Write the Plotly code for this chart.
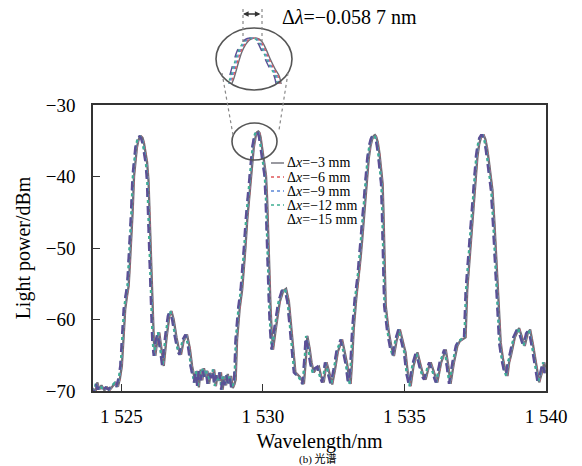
import plotly.graph_objects as go

# Transmission spectrum of the grating array (shared trace shape)
wavelength = [
    1524.00, 1524.08, 1524.15, 1524.22, 1524.30, 1524.40, 1524.50, 1524.60, 1524.70, 1524.80,
    1524.88, 1524.95, 1525.02, 1525.08, 1525.14, 1525.20, 1525.26, 1525.30, 1525.34, 1525.40,
    1525.45, 1525.50, 1525.55, 1525.60, 1525.65, 1525.70, 1525.75, 1525.80, 1525.86, 1525.91,
    1525.96, 1526.00, 1526.03, 1526.06, 1526.09, 1526.11, 1526.15, 1526.20, 1526.27, 1526.34,
    1526.42, 1526.50, 1526.60, 1526.70, 1526.77, 1526.85, 1526.95, 1527.05, 1527.11, 1527.20,
    1527.32, 1527.42, 1527.50, 1527.56, 1527.62, 1527.68, 1527.74, 1527.80, 1527.86, 1527.92,
    1527.98, 1528.04, 1528.10, 1528.16, 1528.22, 1528.28, 1528.34, 1528.40, 1528.46, 1528.52,
    1528.58, 1528.64, 1528.70, 1528.76, 1528.82, 1528.88, 1528.94, 1529.00, 1529.04, 1529.09,
    1529.18, 1529.27, 1529.33, 1529.38, 1529.45, 1529.52, 1529.59, 1529.64, 1529.68, 1529.72,
    1529.76, 1529.80, 1529.84, 1529.88, 1529.92, 1529.96, 1530.01, 1530.06, 1530.11, 1530.15,
    1530.18, 1530.21, 1530.24, 1530.27, 1530.31, 1530.36, 1530.45, 1530.60, 1530.72, 1530.82,
    1530.92, 1531.00, 1531.08, 1531.15, 1531.30, 1531.45, 1531.52, 1531.57, 1531.65, 1531.72,
    1531.80, 1531.90, 1531.98, 1532.06, 1532.15, 1532.25, 1532.35, 1532.45, 1532.55, 1532.65,
    1532.80, 1532.90, 1532.98, 1533.05, 1533.10, 1533.15, 1533.21, 1533.30, 1533.39, 1533.45,
    1533.51, 1533.58, 1533.64, 1533.68, 1533.74, 1533.80, 1533.86, 1533.92, 1533.96, 1534.00,
    1534.06, 1534.12, 1534.18, 1534.23, 1534.26, 1534.28, 1534.31, 1534.34, 1534.45, 1534.55,
    1534.63, 1534.72, 1534.84, 1534.95, 1535.04, 1535.12, 1535.22, 1535.32, 1535.46, 1535.58,
    1535.68, 1535.75, 1535.85, 1535.93, 1536.05, 1536.16, 1536.30, 1536.46, 1536.55, 1536.63,
    1536.75, 1536.87, 1536.96, 1537.05, 1537.16, 1537.22, 1537.30, 1537.40, 1537.46, 1537.52,
    1537.58, 1537.64, 1537.70, 1537.76, 1537.80, 1537.86, 1537.92, 1537.98, 1538.04, 1538.11,
    1538.18, 1538.24, 1538.29, 1538.35, 1538.40, 1538.48, 1538.56, 1538.64, 1538.70, 1538.76,
    1538.90, 1539.05, 1539.15, 1539.25, 1539.35, 1539.44, 1539.54, 1539.64, 1539.70, 1539.76,
    1539.85, 1539.94, 1540.00,
]
power = [
    -69.6, -70.3, -68.8, -69.8, -69.2, -69.9, -69.5, -69.8, -69.3, -68.9,
    -69.4, -68.3, -66.5, -62.0, -58.5, -56.8, -55.3, -52.5, -50.0, -45.0,
    -40.0, -37.8, -36.0, -35.0, -34.5, -34.4, -34.6, -35.3, -36.8, -38.0,
    -40.5, -44.0, -48.8, -52.5, -56.0, -60.4, -63.0, -65.1, -63.0, -61.8,
    -64.0, -66.5, -62.5, -59.5, -58.8, -60.0, -62.5, -64.5, -64.9, -63.0,
    -62.1, -64.0, -66.5, -67.9, -68.8, -67.2, -69.5, -67.0, -68.5, -66.8,
    -68.0, -67.2, -69.0, -67.5, -68.2, -67.0, -69.3, -67.8, -68.6, -67.4,
    -69.8, -68.0, -69.2, -67.6, -68.9, -67.9, -69.6, -69.0, -68.4, -62.8,
    -58.5, -55.8, -53.0, -50.2, -46.0, -42.5, -40.0, -37.6, -35.9, -34.8,
    -34.1, -33.8, -33.7, -33.9, -34.5, -35.6, -37.2, -38.6, -39.8, -43.0,
    -47.5, -52.0, -56.0, -58.1, -61.5, -64.2, -61.5, -57.5, -56.0, -55.7,
    -57.5, -61.0, -65.0, -67.4, -68.0, -69.0, -65.5, -62.3, -64.0, -66.0,
    -67.4, -66.8, -66.6, -68.0, -68.8, -66.0, -67.5, -69.1, -67.0, -64.5,
    -62.8, -64.5, -66.3, -68.5, -69.0, -66.0, -61.3, -57.0, -54.2, -51.5,
    -48.8, -45.0, -42.0, -40.0, -37.5, -35.8, -34.8, -34.3, -34.2, -34.4,
    -35.2, -36.8, -38.8, -41.0, -45.0, -48.8, -54.0, -58.1, -61.8, -64.0,
    -65.1, -63.0, -61.4, -63.0, -64.6, -67.5, -69.3, -66.5, -64.6, -66.5,
    -68.0, -68.4, -66.8, -66.0, -67.5, -68.8, -66.0, -64.2, -66.5, -69.0,
    -66.0, -63.7, -63.0, -62.8, -62.5, -55.8, -51.5, -46.5, -43.0, -40.0,
    -37.2, -35.5, -34.6, -34.2, -34.2, -34.8, -36.0, -37.8, -39.8, -41.9,
    -46.5, -51.5, -55.8, -60.0, -63.2, -65.5, -67.0, -67.9, -66.0, -65.1,
    -62.5, -61.2, -62.5, -63.7, -62.0, -61.4, -63.5, -66.0, -67.8, -68.8,
    -67.5, -66.0, -67.5,
]

# Fibre displacement per measurement and the measured Bragg shift relative to -3 mm
series_labels = ["Δ<i>x</i>=−3 mm", "Δ<i>x</i>=−6 mm", "Δ<i>x</i>=−9 mm",
                 "Δ<i>x</i>=−12 mm", "Δ<i>x</i>=−15 mm"]
series_shift_nm = [0.0, -0.0147, -0.0293, -0.0440, -0.0587]
series_colors = ["#6e6e78", "#e0575a", "#5b86d6", "#3fae92", "#5c4f96"]
series_dash = ["solid", "dot", "dot", "dot", "dash"]

x_ticks = [1525, 1530, 1535, 1540]
x_tick_text = ["1 525", "1 530", "1 535", "1 540"]
y_ticks = [-30, -40, -50, -60, -70]
y_tick_text = ["−30", "−40", "−50", "−60", "−70"]

W, H = 582, 466
ML, MR, MT, MB = 93, 36, 10, 75
PW, PH = W - ML - MR, H - MT - MB


def px(x):
    return (x - ML) / PW


def py(y):
    return (H - MB - y) / PH


FONT = "Liberation Serif, Times New Roman, serif"

fig = go.Figure()

for lab, sh, col, dash in zip(series_labels, series_shift_nm, series_colors, series_dash):
    xs = [w + sh for w in wavelength]
    fig.add_trace(go.Scatter(x=xs, y=power, mode="lines", name=lab, showlegend=False,
                             line=dict(color=col, width=2.3, dash=dash),
                             xaxis="x", yaxis="y"))
    # magnified top of the 1 530 nm peak
    fig.add_trace(go.Scatter(x=xs, y=power, mode="lines", showlegend=False,
                             line=dict(color=col, width=1.4, dash=dash, shape="spline"),
                             xaxis="x2", yaxis="y2"))

main_top = py(105)
fig.update_layout(
    width=W, height=H,
    margin=dict(l=ML, r=MR, t=MT, b=MB, autoexpand=False),
    paper_bgcolor="white", plot_bgcolor="white",
    font=dict(family=FONT, color="black", size=19),
    xaxis=dict(range=[1524, 1540], tickvals=x_ticks, ticktext=x_tick_text,
               ticks="inside", ticklen=7, tickwidth=1.3, tickcolor="#333",
               showline=True, linecolor="#333", linewidth=1.6, mirror=True,
               showgrid=False, zeroline=False, ticklabelstandoff=7, automargin=False,
               title=dict(text="Wavelength/nm", font=dict(size=20), standoff=8),
               domain=[0, 1], anchor="y"),
    yaxis=dict(range=[-70, -30], tickvals=y_ticks, ticktext=y_tick_text,
               ticks="inside", ticklen=7, tickwidth=1.3, tickcolor="#333",
               showline=True, linecolor="#333", linewidth=1.6, mirror=True,
               showgrid=False, zeroline=False, ticklabelstandoff=12, automargin=False,
               title=dict(text="Light power/dBm", font=dict(size=20), standoff=10),
               domain=[0, main_top], anchor="x"),
    xaxis2=dict(range=[1529.52, 1530.14], domain=[px(228), px(282)], anchor="y2",
                visible=False, fixedrange=True, automargin=False),
    yaxis2=dict(range=[-41.0, -33.4], domain=[py(84), py(36)], anchor="x2",
                visible=False, fixedrange=True, automargin=False),
)

ring = dict(color="#555", width=1.6)
guide = dict(color="#888", width=1.2, dash="dot")
shapes = [
    # magnifier ring and the marked peak
    dict(type="circle", xref="paper", yref="paper", x0=px(216), x1=px(292),
         y0=py(90), y1=py(28), line=ring),
    dict(type="circle", xref="paper", yref="paper", x0=px(232), x1=px(277),
         y0=py(160), y1=py(123), line=ring),
    dict(type="line", xref="paper", yref="paper", x0=px(222), y0=py(73),
         x1=px(233), y1=py(135), line=guide),
    dict(type="line", xref="paper", yref="paper", x0=px(288), y0=py(73),
         x1=px(279), y1=py(130), line=guide),
    dict(type="line", xref="paper", yref="paper", x0=px(243), y0=py(9),
         x1=px(243), y1=py(42), line=guide),
    dict(type="line", xref="paper", yref="paper", x0=px(262), y0=py(9),
         x1=px(262), y1=py(42), line=guide),
]

# legend entries
legend_rows = [163, 177, 191, 205, 219]
annotations = []
for i, lab in enumerate(series_labels):
    yrow = legend_rows[i]
    if i < 4:
        shapes.append(dict(type="line", xref="paper", yref="paper",
                           x0=px(271), x1=px(284), y0=py(yrow), y1=py(yrow),
                           line=dict(color=series_colors[i], width=1.4,
                                     dash="solid" if i == 0 else "dot")))
    annotations.append(dict(text=lab, xref="paper", yref="paper", x=px(285), y=py(yrow),
                            xanchor="left", yanchor="middle", showarrow=False,
                            font=dict(size=14, family=FONT, color="black")))

annotations.append(dict(text="Δ<i>λ</i>=−0.058 7 nm", xref="paper", yref="paper",
                        x=px(280), y=py(17), xanchor="left", yanchor="middle",
                        showarrow=False, font=dict(size=20, family=FONT, color="black")))
annotations.append(dict(text="", xref="paper", yref="paper", x=px(243), y=py(14),
                        ax=19, ay=0, axref="pixel", ayref="pixel",
                        showarrow=True, arrowhead=2, arrowside="end+start",
                        arrowsize=0.8, arrowwidth=1.4, arrowcolor="#333"))
# sub-figure caption
annotations.append(dict(text="(b) 光谱", xref="paper", yref="paper",
                        x=px(318), y=py(459), xanchor="center", yanchor="middle",
                        showarrow=False,
                        font=dict(size=11, family="Liberation Serif, Noto Sans CJK SC",
                                  color="black")))

fig.update_layout(shapes=shapes, annotations=annotations)

fig.write_html("out.html")
